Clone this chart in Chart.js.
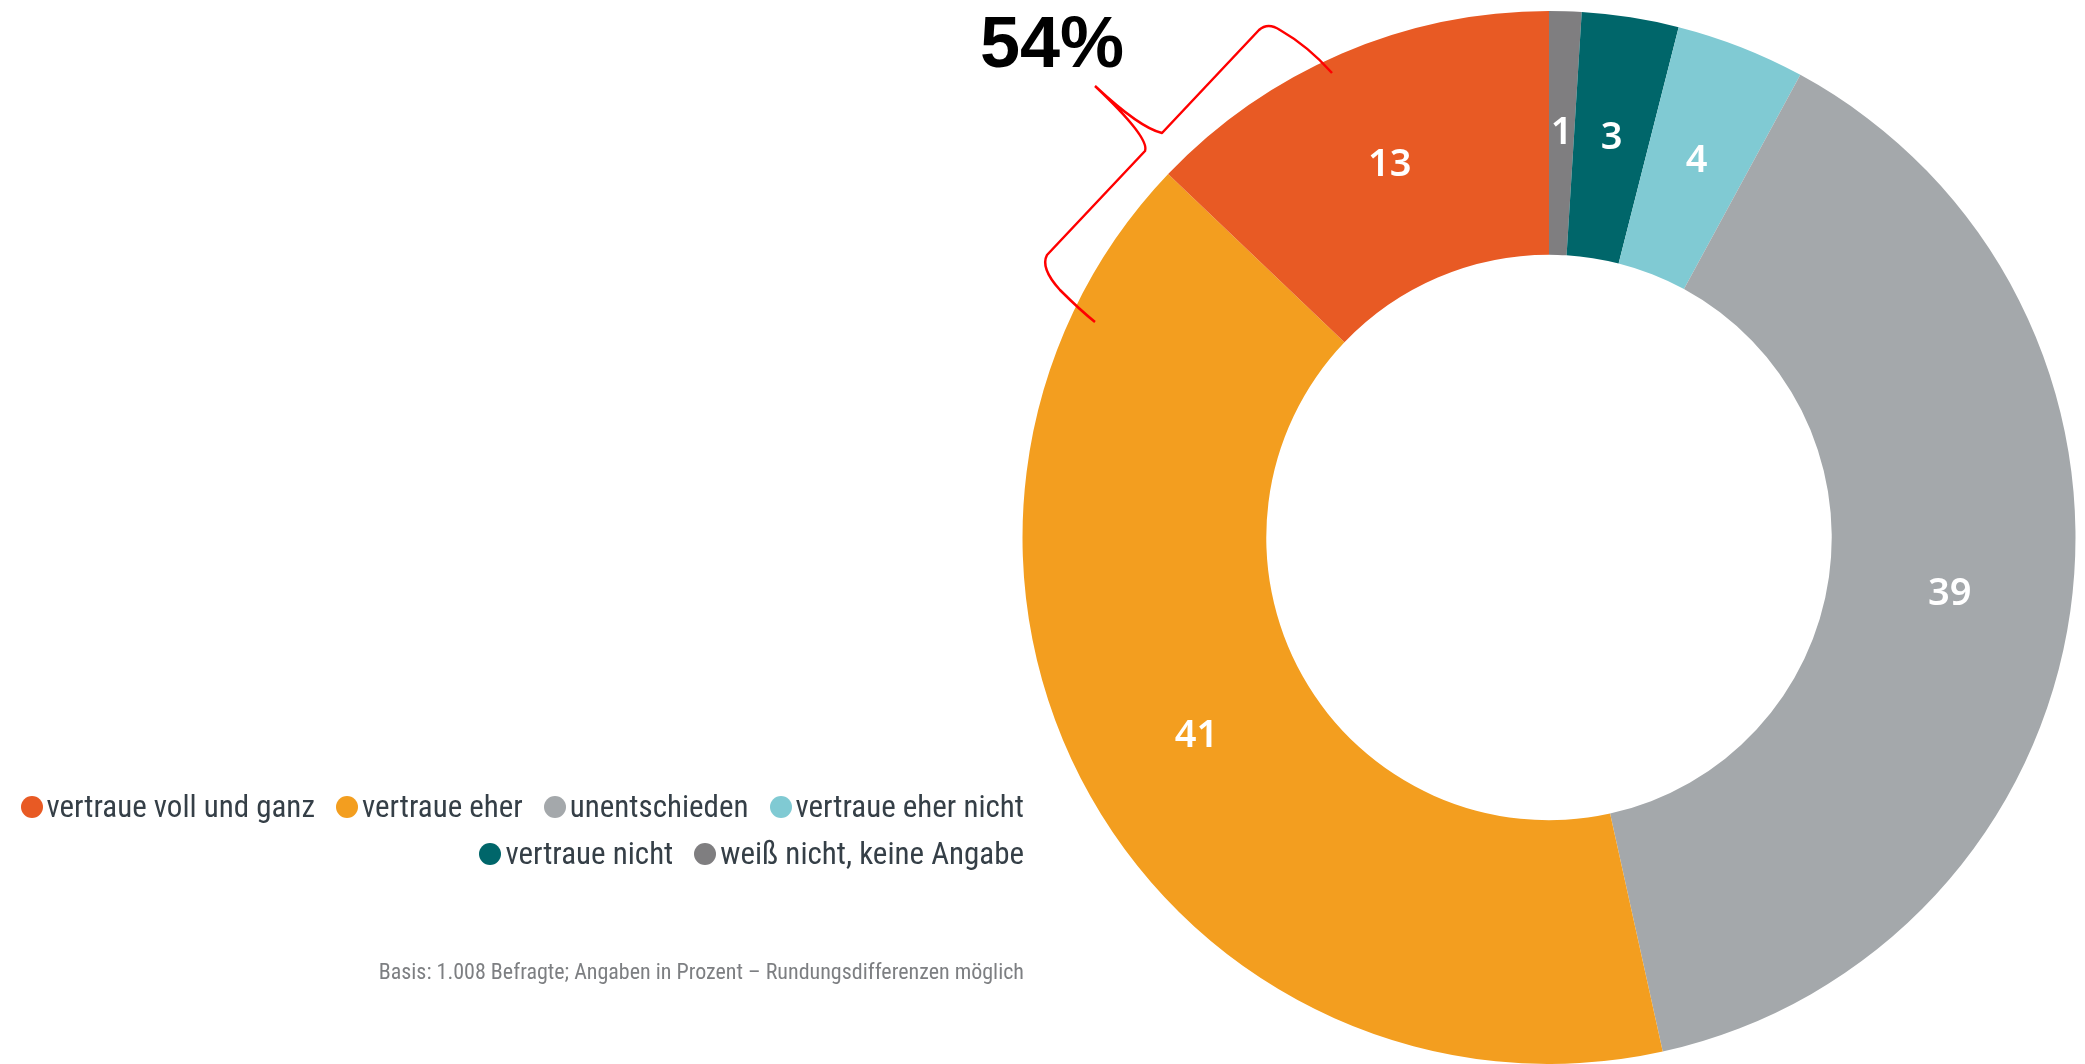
<!DOCTYPE html>
<html>
<head>
<meta charset="utf-8">
<script src="https://cdn.jsdelivr.net/npm/chart.js@4.4.1/dist/chart.umd.min.js"></script>
<style>
  html, body { margin: 0; padding: 0; background: #fff; }
  #wrap { position: absolute; left: 0; top: 0; width: 2085px; height: 1064px; }
  #legend {
    position: absolute; left: 0; top: 783px; width: 1024px;
    font-family: "Roboto Condensed", "Liberation Sans Narrow", "Liberation Sans", sans-serif;
    font-size: 31px; color: #353f47;
  }
  .row { display: flex; justify-content: flex-end; height: 47px; align-items: center; }
  .item { display: flex; align-items: center; margin-left: 21px; white-space: nowrap; }
  .dot { width: 22px; height: 22px; border-radius: 50%; margin-right: 4px; }
  #note {
    position: absolute; right: 1061px; top: 959px;
    font-family: "Roboto Condensed", "Liberation Sans Narrow", "Liberation Sans", sans-serif;
    font-size: 22px; color: #7d7f82; white-space: nowrap;
  }
</style>
</head>
<body>
<div id="wrap"><canvas id="donut"></canvas></div>
<div id="legend"></div>
<div id="note">Basis: 1.008 Befragte; Angaben in Prozent – Rundungsdifferenzen möglich</div>
<script>
// Kategorien in Legendenreihenfolge
var labels = ['vertraue voll und ganz', 'vertraue eher', 'unentschieden',
              'vertraue eher nicht', 'vertraue nicht', 'weiß nicht, keine Angabe'];
var values = [13, 41, 39, 4, 3, 1];
var colors = ['#e85a24', '#f39e1f', '#a4a8ab', '#80cad3', '#00666a', '#7f7e80'];
var legendRows = [[0, 1, 2, 3], [4, 5]];

// im Kreis wird von oben im Uhrzeigersinn rückwärts gezeichnet
var order = [5, 4, 3, 2, 1, 0];

// Legende
var leg = document.getElementById('legend');
legendRows.forEach(function(r) {
  var row = document.createElement('div');
  row.className = 'row';
  r.forEach(function(i) {
    var it = document.createElement('div');
    it.className = 'item';
    it.innerHTML = '<span class="dot" style="background:' + colors[i] + '"></span>' + labels[i];
    row.appendChild(it);
  });
  leg.appendChild(row);
});

// Zahlen in die Segmente
var valueLabels = {
  id: 'valueLabels',
  afterDatasetsDraw: function(chart) {
    var ctx = chart.ctx;
    var meta = chart.getDatasetMeta(0);
    ctx.save();
    ctx.fillStyle = '#ffffff';
    ctx.font = '600 38px "Noto Sans", sans-serif';
    ctx.textAlign = 'center';
    ctx.textBaseline = 'middle';
    meta.data.forEach(function(arc, i) {
      var p = arc.tooltipPosition();
      ctx.fillText(String(chart.data.datasets[0].data[i]), p.x, p.y);
    });
    ctx.restore();
  }
};

// rote Klammer + 54% (Markierung)
var bracket = {
  id: 'bracket',
  afterDraw: function(chart) {
    var ctx = chart.ctx;
    ctx.save();
    ctx.strokeStyle = '#ff0000';
    ctx.lineWidth = 2.5;
    ctx.lineJoin = 'round';
    ctx.beginPath();
    ctx.moveTo(1095, 86);
    ctx.quadraticCurveTo(1140, 128, 1162, 133);
    ctx.lineTo(1259, 30);
    ctx.quadraticCurveTo(1268, 22, 1280, 30);
    ctx.quadraticCurveTo(1308, 46, 1332, 73);
    ctx.moveTo(1095, 86);
    ctx.quadraticCurveTo(1150, 138, 1145, 151);
    ctx.lineTo(1047, 255);
    ctx.quadraticCurveTo(1040, 268, 1060, 290);
    ctx.quadraticCurveTo(1080, 310, 1095, 322);
    ctx.stroke();
    ctx.fillStyle = '#000000';
    ctx.font = 'bold 72px "Liberation Sans", Arial, sans-serif';
    ctx.textAlign = 'left';
    ctx.textBaseline = 'alphabetic';
    ctx.fillText('54%', 980, 67);
    ctx.restore();
  }
};

var chart = new Chart(document.getElementById('donut'), {
  type: 'doughnut',
  data: {
    labels: order.map(function(i) { return labels[i]; }),
    datasets: [{
      data: order.map(function(i) { return values[i]; }),
      backgroundColor: order.map(function(i) { return colors[i]; }),
      borderWidth: 0
    }]
  },
  options: {
    responsive: true,
    maintainAspectRatio: false,
    animation: false,
    cutout: '53.7%',
    rotation: 0,
    layout: { padding: { left: 1022, right: 9, top: 11, bottom: 0 } },
    plugins: {
      legend: { display: false },
      tooltip: { enabled: false }
    }
  },
  plugins: [valueLabels, bracket]
});
</script>
</body>
</html>
